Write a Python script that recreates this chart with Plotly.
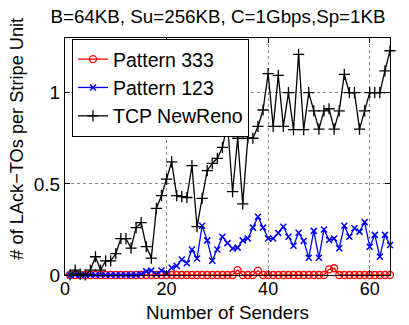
import plotly.graph_objects as go

senders = list(range(1, 65))

pattern_333 = [0, 0, 0, 0, 0, 0, 0, 0, 0, 0,
               0, 0, 0, 0, 0, 0, 0, 0, 0, 0,
               0, 0, 0, 0, 0, 0, 0, 0, 0, 0,
               0, 0, 0, 0.027, 0, 0, 0, 0.024, 0, 0,
               0, 0, 0, 0, 0, 0, 0, 0, 0, 0,
               0, 0.031, 0.037, 0, 0, 0, 0, 0, 0, 0,
               0, 0, 0, 0]

pattern_123 = [0, 0, 0, 0, 0, 0, 0, 0, 0, 0,
               0, 0, 0, 0, 0.005, 0.02, 0.025, 0.005, 0.025, 0.01,
               0.04, 0.05, 0.085, 0.065, 0.14, 0.09, 0.27, 0.19, 0.078, 0.14,
               0.21, 0.175, 0.145, 0.15, 0.19, 0.20, 0.26, 0.32, 0.26, 0.20,
               0.20, 0.23, 0.265, 0.21, 0.16, 0.232, 0.187, 0.095, 0.242, 0.095,
               0.25, 0.192, 0.20, 0.147, 0.27, 0.21, 0.256, 0.238, 0.29, 0.155,
               0.22, 0.10, 0.22, 0.165]

tcp_newreno = [0, 0.027, 0.005, 0, 0.027, 0.10, 0.027, 0.078, 0.078, 0.117,
               0.20, 0.20, 0.147, 0.26, 0.287, 0.156, 0.093, 0.366, 0.435, 0.526,
               0.62, 0.435, 0.43, 0.425, 0.60, 0.265, 0.42, 0.572, 0.612, 0.64,
               0.70, 0.83, 0.457, 0.75, 0.39, 0.75, 0.75, 0.815, 0.905, 1.105,
               0.815, 1.095, 0.815, 1.0, 0.797, 1.21, 0.797, 1.0, 0.90, 0.80,
               0.90, 0.912, 0.80, 0.90, 1.10, 1.0, 1.0, 0.80, 0.90, 1.0,
               1.0, 1.0, 1.12, 1.23]

x_ticks = [0, 20, 40, 60]
y_ticks = [0, 0.5, 1]

FONT = "Liberation Sans, Arial, Helvetica, sans-serif"

fig = go.Figure()
fig.add_trace(go.Scatter(
    x=senders, y=pattern_333, name="Pattern 333", mode="lines+markers",
    line=dict(color="#ff0000", width=1.3),
    marker=dict(symbol="circle-open", size=7, color="#ff0000", line=dict(width=1.3)),
    cliponaxis=False))
fig.add_trace(go.Scatter(
    x=senders, y=pattern_123, name="Pattern 123", mode="lines+markers",
    line=dict(color="#0000ff", width=1.3),
    marker=dict(symbol="x-thin-open", size=6, color="#0000ff", line=dict(width=1.5, color="#0000ff")),
    cliponaxis=False))
fig.add_trace(go.Scatter(
    x=senders, y=tcp_newreno, name="TCP NewReno", mode="lines+markers",
    line=dict(color="#000000", width=1.3),
    marker=dict(symbol="cross-thin-open", size=8, color="#000000", line=dict(width=1.3, color="#000000")),
    cliponaxis=False))

fig.update_layout(
    width=409, height=325,
    margin=dict(l=65, r=19, t=38, b=50),
    paper_bgcolor="white", plot_bgcolor="white",
    font=dict(family=FONT, size=19, color="black"),
    title=dict(text="B=64KB, Su=256KB, C=1Gbps,Sp=1KB",
               x=0.533, xanchor="center", y=0.949, yanchor="middle",
               xref="container", yref="container", automargin=False,
               font=dict(family=FONT, size=18.8, color="black")),
    showlegend=True,
    legend=dict(x=0.0215, y=0.996, xanchor="left", yanchor="top",
                bgcolor="white", bordercolor="black", borderwidth=1,
                font=dict(family=FONT, size=19.5, color="black"),
                tracegroupgap=0),
    xaxis=dict(range=[0, 64], tickvals=x_ticks, ticktext=[str(v) for v in x_ticks],
               ticks="inside", ticklen=5, tickcolor="black",
               showline=True, linecolor="black", linewidth=1, mirror="ticks",
               showgrid=True, gridcolor="#8a8a8a", griddash="dot", gridwidth=1,
               zeroline=False, ticklabelstandoff=-3, automargin=False,
               tickfont=dict(family=FONT, size=18)),
    yaxis=dict(range=[0, 1.3], tickvals=y_ticks, ticktext=["0", "0.5", "1"],
               ticks="inside", ticklen=5, tickcolor="black",
               showline=True, linecolor="black", linewidth=1, mirror="ticks",
               showgrid=True, gridcolor="#8a8a8a", griddash="dot", gridwidth=1,
               zeroline=False, automargin=False,
               tickfont=dict(family=FONT, size=19)),
    annotations=[
        dict(text="# of LAck\u2212TOs per Stripe Unit", textangle=-90,
             xref="paper", yref="paper", x=-0.148, y=0.575,
             xanchor="center", yanchor="middle", showarrow=False,
             font=dict(family=FONT, size=18.2, color="black")),
        dict(text="Number of Senders",
             xref="paper", yref="paper", x=0.5, y=-0.209,
             xanchor="center", yanchor="bottom", showarrow=False,
             font=dict(family=FONT, size=18.8, color="black")),
    ],
)

fig.write_html("out.html")
